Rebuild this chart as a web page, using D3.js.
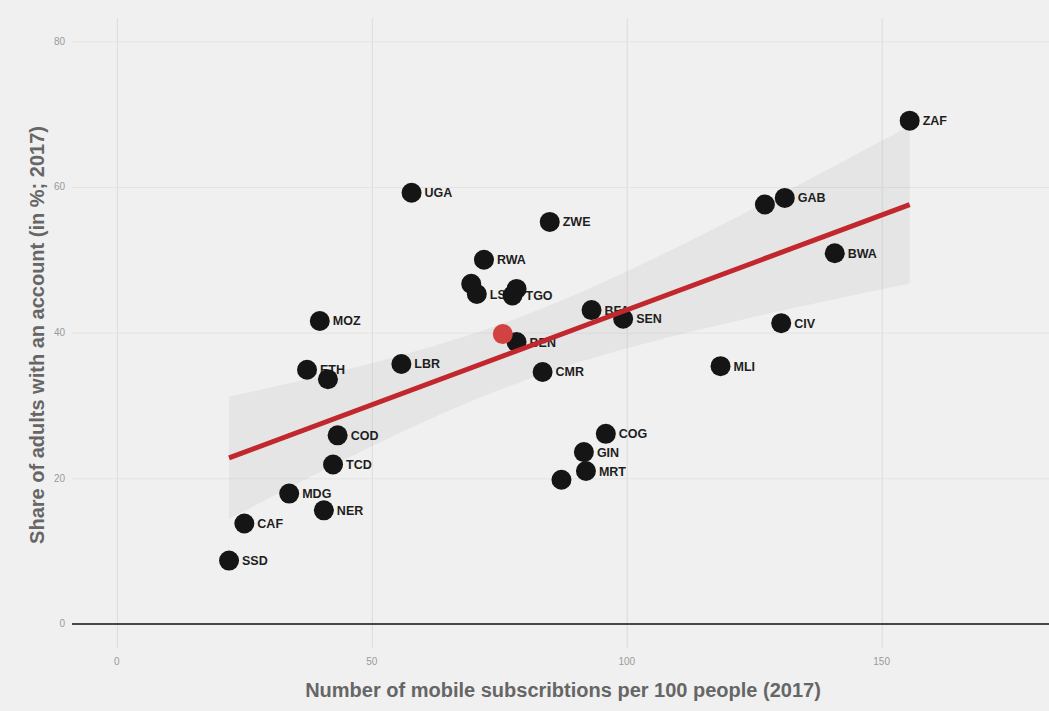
<!DOCTYPE html>
<html>
<head>
<meta charset="utf-8">
<script src="https://cdn.jsdelivr.net/npm/d3@7/dist/d3.min.js"></script>
<style>
  body { margin: 0; background: #f0f0f0; }
  svg { display: block; }
</style>
</head>
<body>
<svg id="chart" width="1049" height="711"></svg>
<script>
// Country codes (empty string = point drawn without a label)
const countries = ["ZAF","GAB","","BWA","CIV","MLI","UGA","ZWE","RWA","","LSO","","TGO",
  "MOZ","ETH","","LBR","BEN","CMR","BFA","SEN","COG","GIN","MRT","","COD","TCD","MDG","NER","CAF","SSD"];
// Mobile subscriptions per 100 people (2017)
const subscriptions = [155.5,131.0,127.1,140.8,130.3,118.4,57.8,84.9,72.0,69.5,70.6,78.4,77.6,
  39.8,37.3,41.4,55.8,78.4,83.5,93.1,99.3,95.9,91.6,92.0,87.2,43.3,42.4,33.8,40.6,25.0,22.0];
// Share of adults with an account, in % (2017)
const accounts = [69.1,58.5,57.6,50.9,41.3,35.4,59.2,55.2,50.0,46.7,45.3,46.0,45.1,
  41.6,34.9,33.6,35.7,38.7,34.6,43.1,41.9,26.1,23.6,21.0,19.8,25.9,21.9,17.9,15.6,13.8,8.7];
// Highlighted reference point
const highlightX = [75.7];
const highlightY = [39.8];

const xTicks = [0, 50, 100, 150];
const yTicks = [0, 20, 40, 60, 80];

const W = 1049, H = 711;
const svg = d3.select("#chart");

const x = d3.scaleLinear().domain([-8.8, 184]).range([72, 1055]);
const y = d3.scaleLinear().domain([-3.3, 83.2]).range([648, 18]);

const data = countries.map((c, i) => ({ code: c, x: subscriptions[i], y: accounts[i] }));

// background
svg.append("rect").attr("width", W).attr("height", H).attr("fill", "#f0f0f0");

// gridlines via axes
const gx = svg.append("g")
  .attr("transform", `translate(0,${y.range()[1]})`)
  .call(d3.axisBottom(x).tickValues(xTicks).tickSize(y.range()[0] - y.range()[1]).tickFormat(""));
gx.select(".domain").remove();
gx.selectAll(".tick line").attr("stroke", "#dcdcdc").attr("stroke-width", 1);

const gy = svg.append("g")
  .attr("transform", `translate(${x.range()[0]},0)`)
  .call(d3.axisRight(y).tickValues(yTicks.filter(d => d !== 0)).tickSize(W - x.range()[0]).tickFormat(""));
gy.select(".domain").remove();
gy.selectAll(".tick line").attr("stroke", "#e3e3e3").attr("stroke-width", 1);

// tick labels
svg.append("g").selectAll("text").data(xTicks).join("text")
  .attr("x", d => x(d)).attr("y", 665)
  .attr("text-anchor", "middle")
  .attr("font-family", "Liberation Sans, Arial, sans-serif")
  .attr("font-size", 10).attr("fill", "#9a9a9a")
  .text(d => d);

svg.append("g").selectAll("text").data(yTicks).join("text")
  .attr("x", 65).attr("y", d => y(d)).attr("dy", "0.35em")
  .attr("text-anchor", "end")
  .attr("font-family", "Liberation Sans, Arial, sans-serif")
  .attr("font-size", 10).attr("fill", "#9a9a9a")
  .text(d => d);

// zero line
svg.append("line")
  .attr("x1", x.range()[0]).attr("x2", W)
  .attr("y1", y(0)).attr("y2", y(0))
  .attr("stroke", "#474747").attr("stroke-width", 2);

// linear fit with 95% confidence band
const n = data.length;
const mx = d3.mean(data, d => d.x), my = d3.mean(data, d => d.y);
const sxx = d3.sum(data, d => (d.x - mx) ** 2);
const sxy = d3.sum(data, d => (d.x - mx) * (d.y - my));
const slope = sxy / sxx, intercept = my - slope * mx;
const sse = d3.sum(data, d => (d.y - (intercept + slope * d.x)) ** 2);
const s = Math.sqrt(sse / (n - 2));
const tCrit = 2.045; // 97.5% quantile of Student's t, 29 df
const [xmin, xmax] = d3.extent(data, d => d.x);
const fitX = d3.range(0, 81).map(i => xmin + (xmax - xmin) * i / 80);
const band = fitX.map(v => {
  const fit = intercept + slope * v;
  const se = s * Math.sqrt(1 / n + (v - mx) ** 2 / sxx);
  return { x: v, lo: fit - tCrit * se, hi: fit + tCrit * se };
});

svg.append("path")
  .datum(band)
  .attr("d", d3.area().x(d => x(d.x)).y0(d => y(d.lo)).y1(d => y(d.hi)))
  .attr("fill", "#8a8a8a").attr("fill-opacity", 0.1);

// labels (drawn beneath the markers)
const lab = data.filter(d => d.code);
svg.append("g").selectAll("text").data(lab).join("text")
  .attr("x", d => x(d.x) + 13).attr("y", d => y(d.y)).attr("dy", "0.36em")
  .attr("font-family", "Liberation Sans, Arial, sans-serif")
  .attr("font-weight", "bold").attr("font-size", 12.5)
  .attr("fill", "#1e1e1e")
  .text(d => d.code);

// markers
svg.append("g").selectAll("circle").data(data).join("circle")
  .attr("cx", d => x(d.x)).attr("cy", d => y(d.y)).attr("r", 10)
  .attr("fill", "#151515");

// fitted line
svg.append("line")
  .attr("x1", x(xmin)).attr("y1", y(intercept + slope * xmin))
  .attr("x2", x(xmax)).attr("y2", y(intercept + slope * xmax))
  .attr("stroke", "#c1272d").attr("stroke-width", 5);

// highlighted point
svg.append("g").selectAll("circle").data(highlightX.map((v, i) => ({ x: v, y: highlightY[i] }))).join("circle")
  .attr("cx", d => x(d.x)).attr("cy", d => y(d.y)).attr("r", 10)
  .attr("fill", "#d24240");

// axis titles
svg.append("text")
  .attr("x", 563).attr("y", 697)
  .attr("text-anchor", "middle")
  .attr("font-family", "Liberation Sans, Arial, sans-serif")
  .attr("font-weight", "bold").attr("font-size", 20).attr("fill", "#666666")
  .text("Number of mobile subscribtions per 100 people (2017)");

svg.append("text")
  .attr("transform", `translate(44,335) rotate(-90)`)
  .attr("text-anchor", "middle")
  .attr("font-family", "Liberation Sans, Arial, sans-serif")
  .attr("font-weight", "bold").attr("font-size", 20).attr("fill", "#666666")
  .text("Share of adults with an account (in %; 2017)");
</script>
</body>
</html>
